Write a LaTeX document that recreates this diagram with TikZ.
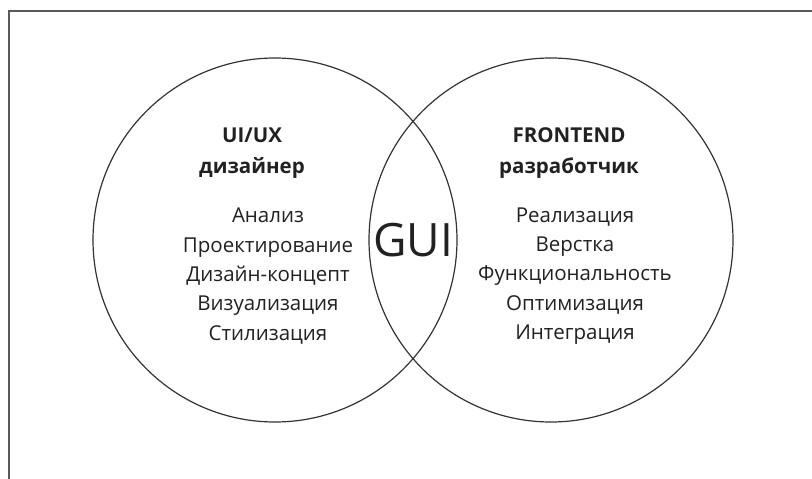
\documentclass[tikz,border=0pt]{standalone}
\usepackage{fontspec}
\setmainfont{Open Sans}
\begin{document}
\begin{tikzpicture}[x=1pt,y=-1pt,
  ring/.style={draw=black!80, line width=1.2pt},
  frameline/.style={draw=black!65, line width=1.4pt},
  head/.style={font=\fontsize{20.5}{31}\selectfont\bfseries, text=black!87, align=center},
  items/.style={font=\fontsize{20.5}{29.3}\selectfont, text=black!87, align=center},
  big/.style={font=\fontsize{46}{50}\selectfont, text=black!87}]
\useasboundingbox (0,0) rectangle (812,479);
\coordinate (fa) at (9,479);
\coordinate (fb) at (9,11);
\coordinate (fc) at (812,11);
\draw[frameline] (fa) -- (fb) -- (fc);
\node[ring, circle, minimum size=364pt, inner sep=0pt] (lc) at (275,240) {};
\node[ring, circle, minimum size=364pt, inner sep=0pt] (rc) at (551,240) {};
\node[head] (lh) at (252,153) {UI/UX\\дизайнер};
\node[items] (li) at (268,276) {Анализ\\Проектирование\\Дизайн-концепт\\Визуализация\\Стилизация};
\node[head] (rh) at (569,153) {FRONTEND\\разработчик};
\node[items] (ri) at (575,276) {Реализация\\Верстка\\Функциональность\\Оптимизация\\Интеграция};
\node[big] (gui) at (413,240) {GUI};
\end{tikzpicture}
\end{document}
